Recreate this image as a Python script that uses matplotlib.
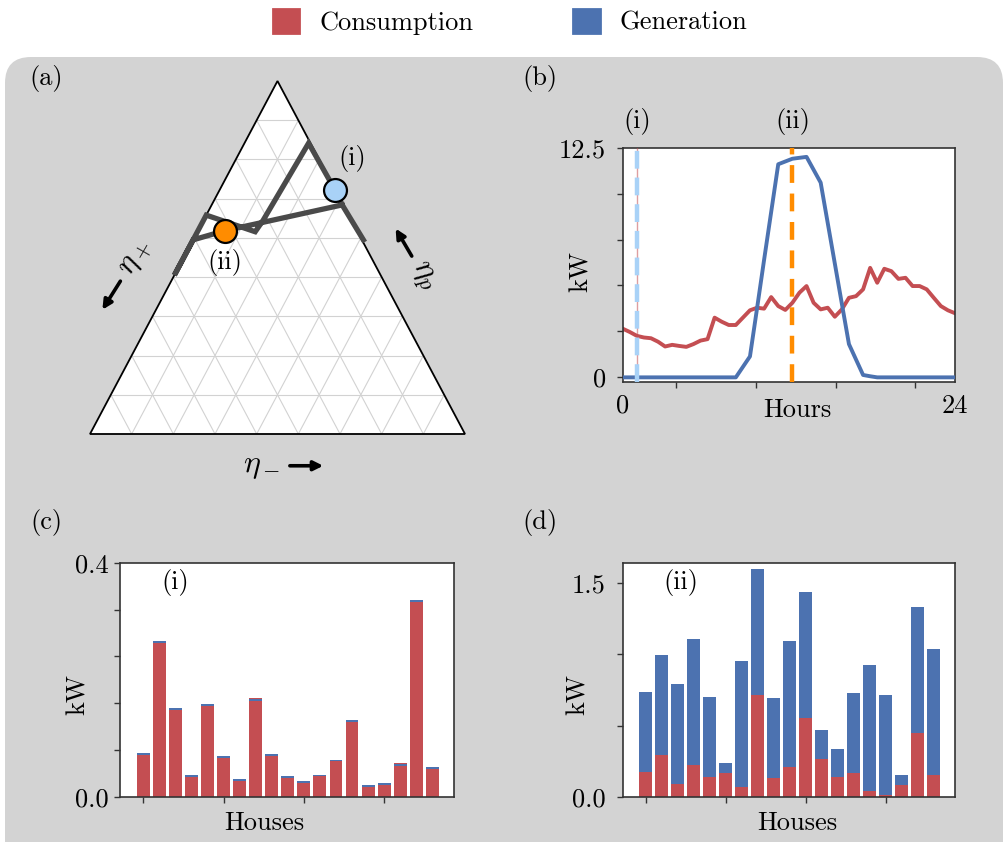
import numpy as np
import matplotlib
matplotlib.use("Agg")
import matplotlib.pyplot as plt
from matplotlib.patches import FancyBboxPatch, Polygon, Patch
from matplotlib.transforms import IdentityTransform, blended_transform_factory

plt.rcParams.update({
    "font.family": "serif",
    "font.serif": ["cmr10"],
    "mathtext.fontset": "cm",
    "axes.unicode_minus": False,
    "axes.formatter.use_mathtext": True,
    "font.size": 19,
})

RED = "#C44E52"
BLUE = "#4C72B0"
LIGHT_BLUE = "#A9D2F7"
ORANGE = "#FF8C00"
PATH_GRAY = "#4A4A4A"
BG = "#D3D3D3"
SPINE = "#333333"

# ---- daily profiles (half-hourly, kW) ----
hours = np.linspace(0, 24, 48)
consumption_profile = [
    2.65, 2.47, 2.26, 2.17, 2.13, 1.94, 1.68, 1.77, 1.71, 1.66, 1.81, 2.00,
    2.08, 3.25, 3.03, 2.85, 2.85, 3.25, 3.65, 3.79, 3.74, 4.37, 3.88, 3.67,
    4.06, 4.61, 4.97, 4.06, 3.70, 3.79, 3.30, 3.70, 4.33, 4.42, 4.79, 5.96,
    5.15, 5.91, 5.78, 5.36, 5.42, 4.97, 4.97, 4.79, 4.33, 3.88, 3.65, 3.49,
]
generation_profile = [
    0, 0, 0, 0, 0, 0, 0, 0, 0, 0, 0, 0,
    0, 0, 0, 0, 0, 0.57, 1.14, 3.75, 6.40, 9.00, 11.60, 11.75,
    11.90, 11.95, 12.00, 11.30, 10.60, 8.40, 6.20, 4.00, 1.81, 0.97, 0.13, 0.06,
    0, 0, 0, 0, 0, 0, 0, 0, 0, 0, 0, 0,
]
idx_i, idx_ii = 2, 24

# ---- trajectory in the simplex (eta_-, eta_p; eta_+ = 1 - both) ----
path_eta_minus = [0.454, 0.348, 0.308, 0.171, 0.159, 0.154, 0.000, 0.000, 0.000, 0.072, 0.348]
path_eta_p = [0.550, 0.649, 0.691, 0.824, 0.606, 0.573, 0.620, 0.450, 0.550, 0.576, 0.649]
point_i = (0.308, 0.691)
point_ii = (0.072, 0.576)
n_div = 9

# ---- per-house power at the two instants (kW) ----
houses = np.arange(19)
cons_i = [0.0712, 0.2621, 0.1481, 0.0336, 0.1556, 0.0661, 0.0268, 0.1630, 0.0695, 0.0319,
          0.0234, 0.0353, 0.0610, 0.1276, 0.0165, 0.0199, 0.0530, 0.3328, 0.0473]
gen_i = [0.0034, 0.0040, 0.0034, 0.0034, 0.0028, 0.0034, 0.0034, 0.0034, 0.0034, 0.0034,
         0.0034, 0.0017, 0.0017, 0.0034, 0.0034, 0.0034, 0.0023, 0.0034, 0.0034]
cons_extra_i = [0, 0, 0, 0, 0, 0, 0, 0.0023, 0, 0,
                0, 0, 0, 0, 0, 0, 0.0023, 0, 0]
cons_ii = [0.176, 0.293, 0.091, 0.223, 0.138, 0.166, 0.068, 0.715, 0.134, 0.209,
           0.556, 0.265, 0.138, 0.166, 0.040, 0.012, 0.082, 0.448, 0.152]
gen_ii = [0.560, 0.703, 0.701, 0.886, 0.563, 0.071, 0.886, 0.886, 0.560, 0.886,
          0.883, 0.204, 0.197, 0.563, 0.886, 0.703, 0.070, 0.886, 0.886]

W, H = 1004, 842
fig = plt.figure(figsize=(W / 100, H / 100), dpi=100)
fig.patch.set_facecolor("white")

# rounded grey panel behind all subplots
bg = FancyBboxPatch((5, -30), 998, H - 57 + 30, boxstyle="round,pad=0,rounding_size=26",
                    transform=IdentityTransform(), facecolor=BG, edgecolor="none", zorder=-10)
fig.add_artist(bg)


def px_axes(x0, y0, x1, y1):
    return fig.add_axes([x0 / W, 1 - y1 / H, (x1 - x0) / W, (y1 - y0) / H])


def style_axes(ax):
    ax.set_facecolor("white")
    for s in ax.spines.values():
        s.set_color(SPINE)
        s.set_linewidth(1.2)
    ax.tick_params(which="both", direction="out", length=4, width=1, color=SPINE)


# ---------------- (a) simplex ----------------
axa = px_axes(90, 81, 465, 434)
axa.set_xlim(0, 1)
axa.set_ylim(0, 1)
axa.axis("off")


def tern(em, ep):
    em = np.asarray(em, dtype=float)
    ep = np.asarray(ep, dtype=float)
    return em + 0.5 * ep, ep


axa.add_patch(Polygon([(0, 0), (1, 0), (0.5, 1)], closed=True, facecolor="white",
                      edgecolor="none", zorder=0))
for k in range(1, n_div):
    f = k / n_div
    kw = dict(color="#D2D2D2", lw=0.8, zorder=1)
    axa.plot([0.5 * f, 1 - 0.5 * f], [f, f], **kw)
    axa.plot([f, f + 0.5 * (1 - f)], [0, 1 - f], **kw)
    axa.plot([1 - f, 0.5 * (1 - f)], [0, 1 - f], **kw)
axa.add_patch(Polygon([(0, 0), (1, 0), (0.5, 1)], closed=True, facecolor="none",
                      edgecolor="black", lw=1.3, zorder=2, clip_on=False))

px, py = tern(path_eta_minus, path_eta_p)
axa.plot(px, py, color=PATH_GRAY, lw=3.8, solid_joinstyle="miter", zorder=3, clip_on=False)
xi, yi = tern(*point_i)
xii, yii = tern(*point_ii)
axa.plot(xi, yi, "o", ms=16.5, mfc=LIGHT_BLUE, mec="black", mew=1.6, zorder=4, clip_on=False)
axa.plot(xii, yii, "o", ms=16.5, mfc=ORANGE, mec="black", mew=1.6, zorder=4, clip_on=False)
axa.text(xi + 0.047, yi + 0.09, "(i)", ha="center", va="center", zorder=5)
axa.text(xii + 0.0, yii - 0.09, "(ii)", ha="center", va="center", zorder=5)

arrow = dict(arrowstyle="-|>", lw=2.6, color="black", mutation_scale=14, shrinkA=0, shrinkB=0)
axa.text(0.459, -0.093, r"$\eta_-$", ha="center", va="center", fontsize=23)
axa.annotate("", xy=(0.622, -0.09), xytext=(0.533, -0.09), arrowprops=arrow,
             annotation_clip=False)
axa.text(0.123, 0.50, r"$\eta_+$", ha="center", va="center", rotation=60, fontsize=23)
axa.annotate("", xy=(0.033, 0.352), xytext=(0.081, 0.433), arrowprops=arrow,
             annotation_clip=False)
axa.text(0.885, 0.445, r"$\eta_p$", ha="center", va="center", rotation=-60, fontsize=23)
axa.annotate("", xy=(0.815, 0.582), xytext=(0.858, 0.504), arrowprops=arrow,
             annotation_clip=False)

# ---------------- (b) daily profile ----------------
axb = px_axes(622.7, 147.7, 955, 381.7)
style_axes(axb)
axb.plot(hours, consumption_profile, color=RED, lw=2.8, zorder=2)
axb.plot(hours, generation_profile, color=BLUE, lw=2.8, zorder=3)
axb.axvline(hours[idx_i], color=RED, lw=1.0, alpha=0.55, zorder=4)
axb.axvline(hours[idx_i], color=LIGHT_BLUE, lw=3.2, ls=(0, (4, 2)), zorder=5)
axb.axvline(hours[idx_ii], color=ORANGE, lw=3.2, ls=(0, (4, 2.4)), zorder=5)
axb.set_xlim(0, 24)
axb.set_ylim(-0.236, 12.5)
axb.set_xticks([0, 24])
axb.set_xticklabels(["0", "24"])
axb.set_xticks([3.86, 9.6, 15.37, 21.1], minor=True)
axb.tick_params(axis="x", which="major", length=0, pad=9)
axb.set_yticks([0, 12.5])
axb.set_yticklabels(["0", "12.5"])
axb.set_yticks([2.5, 5.0, 7.5, 10.0], minor=True)
axb.tick_params(axis="y", which="major", pad=8)
axb.set_xlabel("Hours")
axb.xaxis.set_label_coords(0.527, -0.072)
axb.set_ylabel("kW")
axb.yaxis.set_label_coords(-0.09, 0.47)
trb = blended_transform_factory(axb.transData, axb.transAxes)
axb.text(hours[idx_i], 1.11, "(i)", transform=trb, ha="center", va="center")
axb.text(hours[idx_ii], 1.11, "(ii)", transform=trb, ha="center", va="center")

# ---------------- (c) houses at instant (i) ----------------
axc = px_axes(120, 562.7, 454, 796.7)
style_axes(axc)
cons_i_a = np.asarray(cons_i)
gen_i_a = np.asarray(gen_i)
axc.bar(houses, cons_i_a, width=0.8, color=RED)
axc.bar(houses, gen_i_a, width=0.8, bottom=cons_i_a, color=BLUE)
axc.bar(houses, cons_extra_i, width=0.8, bottom=cons_i_a + gen_i_a, color=RED)
axc.set_xlim(-1.45, 19.35)
axc.set_ylim(0, 0.4)
axc.set_xticks([0, 5, 10, 15])
axc.set_xticklabels([])
axc.set_yticks([0, 0.4])
axc.set_yticklabels(["0.0", "0.4"])
axc.set_yticks([0.08, 0.16, 0.24, 0.32], minor=True)
axc.tick_params(axis="y", which="major", pad=4)
axc.set_xlabel("Houses")
axc.xaxis.set_label_coords(0.431, -0.062)
axc.set_ylabel("kW")
axc.yaxis.set_label_coords(-0.09, 0.435)
axc.text(0.165, 0.915, "(i)", transform=axc.transAxes, ha="center", va="center")

# ---------------- (d) houses at instant (ii) ----------------
axd = px_axes(622.7, 562.7, 955, 796.7)
style_axes(axd)
cons_ii_a = np.asarray(cons_ii)
axd.bar(houses, cons_ii_a, width=0.8, color=RED)
axd.bar(houses, gen_ii, width=0.8, bottom=cons_ii_a, color=BLUE)
axd.set_xlim(-1.45, 19.35)
axd.set_ylim(0, 1.645)
axd.set_xticks([0, 5, 10, 15])
axd.set_xticklabels([])
axd.set_yticks([0, 1.5])
axd.set_yticklabels(["0.0", "1.5"])
axd.set_yticks([0.5, 1.0], minor=True)
axd.tick_params(axis="y", which="major", pad=8)
axd.set_xlabel("Houses")
axd.xaxis.set_label_coords(0.524, -0.062)
axd.set_ylabel("kW")
axd.yaxis.set_label_coords(-0.098, 0.435)
axd.text(0.175, 0.915, "(ii)", transform=axd.transAxes, ha="center", va="center")

# panel letters
for lbl, (x, y) in {"(a)": (46, 79), "(b)": (540, 79), "(c)": (46, 523), "(d)": (540, 523)}.items():
    fig.text(x / W, 1 - y / H, lbl, ha="center", va="center")

# shared legend
handles = [Patch(facecolor=RED, edgecolor=RED, lw=2, joinstyle="round", label="Consumption"),
           Patch(facecolor=BLUE, edgecolor=BLUE, lw=2, joinstyle="round", label="Generation")]
fig.legend(handles=handles, loc="center", bbox_to_anchor=(0.508, 0.974), ncol=2,
           frameon=False, handlelength=1.0, handleheight=1.0, handletextpad=0.76,
           columnspacing=3.8)

fig.savefig("out.png", dpi=100)
